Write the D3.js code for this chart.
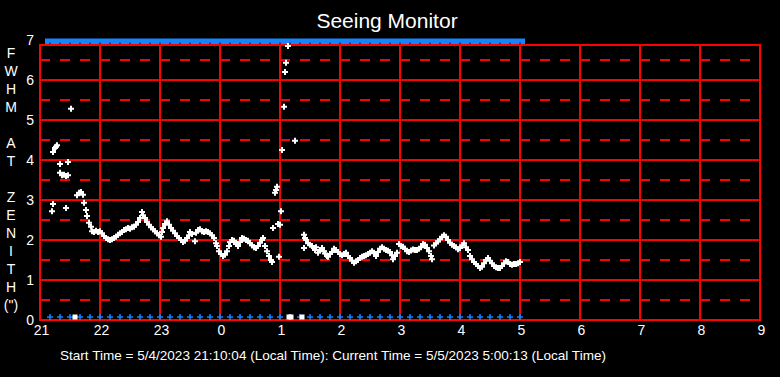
<!DOCTYPE html>
<html>
<head>
<meta charset="utf-8">
<script src="https://cdn.jsdelivr.net/npm/d3@7"></script>
<style>
  html, body { margin: 0; padding: 0; background: #000; }
  svg { display: block; }
  text { font-family: "Liberation Sans", Arial, sans-serif; fill: #fff; }
</style>
</head>
<body>
<div id="chart"></div>
<script>
// minutes after 21:00 and FWHM values (arcsec)
const fwhmMinutes = [12, 13, 13, 15, 16, 17, 20, 20, 22, 24, 26, 26, 28, 28, 31, 37, 39, 41, 43, 44, 46, 47, 49, 51,
  52, 54, 56, 58, 60, 62, 64, 66, 68, 70, 72, 74, 76, 78, 80, 82, 84, 86, 88, 90, 92, 94, 96, 98, 100, 102,
  103, 105, 107, 109, 111, 113, 115, 117, 119, 121, 122, 123, 125, 127, 129, 131, 133, 135, 137, 139, 141,
  143, 145, 147, 149, 150, 152, 155, 156, 158, 160, 162, 164, 166, 168, 170, 172, 174, 176, 177, 179, 181,
  183, 185, 187, 189, 190, 192, 194, 196, 198, 200, 202, 204, 206, 208, 210, 212, 214, 216, 218, 220, 222,
  223, 225, 227, 229, 231, 232, 233, 235, 236, 237, 238, 239, 240, 241, 242, 244, 245, 246, 248, 255, 264,
  264, 265, 266, 268, 270, 272, 274, 275, 276, 278, 280, 282, 284, 285, 287, 288, 290, 292, 294, 296, 298,
  300, 302, 304, 306, 308, 310, 312, 314, 316, 318, 320, 322, 324, 326, 328, 330, 332, 334, 336, 338, 340,
  342, 344, 346, 348, 350, 352, 353, 355, 357, 359, 361, 363, 365, 367, 369, 371, 373, 375, 377, 379, 381,
  383, 385, 387, 389, 391, 392, 394, 396, 398, 400, 402, 404, 406, 408, 410, 412, 414, 416, 418, 420, 422,
  424, 426, 428, 430, 432, 434, 436, 438, 440, 442, 444, 446, 448, 450, 452, 454, 456, 458, 460, 462, 464,
  466, 468, 470, 472, 474, 476, 478, 480];
const fwhmValues = [2.72, 2.9, 4.2, 4.3, 4.33, 4.37, 3.9, 3.68, 3.62, 3.63, 3.6, 2.8, 3.62, 3.95, 5.28, 3.12, 3.18,
  3.2, 3.13, 2.93, 2.75, 2.6, 2.43, 2.33,
  2.22, 2.2, 2.23, 2.2, 2.22, 2.17, 2.1, 2.05, 2.02, 2.0, 2.02, 2.05, 2.08, 2.13, 2.17, 2.2, 2.25, 2.27, 2.3,
  2.28, 2.32, 2.33, 2.38, 2.45, 2.55, 2.7,
  2.62, 2.55, 2.45, 2.38, 2.32, 2.27, 2.22, 2.17, 2.12, 2.08, 2.2, 2.3, 2.4, 2.47, 2.38, 2.3, 2.23, 2.17, 2.1,
  2.05, 2.0,
  1.95, 1.98, 2.05, 2.12, 2.2, 2.15, 1.97, 2.18, 2.25, 2.27, 2.22, 2.2, 2.22, 2.2, 2.17, 2.12, 2.05, 1.92, 1.85,
  1.72, 1.65,
  1.6, 1.63, 1.72, 1.85, 1.95, 2.0, 1.98, 1.9, 1.85, 1.95, 2.05, 2.03, 2.0, 1.98, 1.92, 1.87, 1.82, 1.8, 1.85,
  1.93, 2.0,
  2.05, 1.85, 1.72, 1.6, 1.5, 1.45, 2.3, 3.18, 3.25, 3.33, 2.4, 1.58, 2.38, 2.72, 4.25, 5.33, 6.2, 6.43, 6.85,
  4.48, 2.13,
  1.8, 2.05, 2.0, 1.92, 1.88, 1.85, 1.8, 1.75, 1.82, 1.68, 1.75, 1.8, 1.72, 1.66, 1.6, 1.58, 1.65, 1.7, 1.78,
  1.75, 1.7,
  1.65, 1.62, 1.65, 1.68, 1.6, 1.55, 1.48, 1.43, 1.47, 1.5, 1.55, 1.58, 1.6, 1.62, 1.65, 1.68, 1.72, 1.68,
  1.6, 1.7, 1.78,
  1.82, 1.78, 1.75, 1.73, 1.7, 1.62, 1.52, 1.6, 1.68, 1.9, 1.85, 1.83, 1.78, 1.72, 1.7, 1.74, 1.76, 1.75, 1.75,
  1.78, 1.82,
  1.9, 1.88, 1.8, 1.72, 1.6, 1.52, 1.86, 1.92, 1.96, 2.02, 2.08, 2.12, 2.08, 2.0, 1.93, 1.88, 1.85, 1.82, 1.77,
  1.8, 1.87,
  1.92, 1.82, 1.75, 1.6, 1.52, 1.45, 1.4, 1.35, 1.3, 1.33, 1.42, 1.5, 1.55, 1.48, 1.42, 1.35, 1.32, 1.3, 1.3,
  1.35, 1.42,
  1.47, 1.45, 1.4, 1.38, 1.4, 1.4, 1.42, 1.45];

// blue status markers (every sample slot) drawn at 0 and on the top edge
const slotMinutes = [10, 20, 30, 40, 50, 60, 70, 80, 90, 100, 110, 120, 130, 140, 150, 160, 170, 180, 190, 200,
  210, 220, 230, 240, 250, 260, 270, 280, 290, 300, 310, 320, 330, 340, 350, 360, 370, 380, 390, 400, 410,
  420, 430, 440, 450, 460, 470, 480];
// failed readings plotted at zero
const zeroMinutes = [35, 249, 251, 262];

const xTickMinutes = [0, 60, 120, 180, 240, 300, 360, 420, 480, 540, 600, 660, 720];
const xTickLabels = ["21", "22", "23", "0", "1", "2", "3", "4", "5", "6", "7", "8", "9"];
const yTicks = [0, 1, 2, 3, 4, 5, 6, 7];
const yHalfTicks = [0.5, 1.5, 2.5, 3.5, 4.5, 5.5, 6.5];
const yLabelChars = ["F", "W", "H", "M", "", "A", "T", "", "Z", "E", "N", "I", "T", "H", "(\")"];

const width = 780;
const height = 377;
const frameTop = 45;

const x = d3.scaleLinear().domain([0, 720]).range([40, 760]);
const y = d3.scaleLinear().domain([0, 7]).range([320, 40]);

const svg = d3.select("#chart").append("svg")
  .attr("width", width)
  .attr("height", height)
  .style("background", "#000");

// title
svg.append("text")
  .attr("x", 387).attr("y", 28)
  .attr("text-anchor", "middle")
  .style("font-size", "21px")
  .text("Seeing Monitor");

// vertical axis label, one letter per row
svg.selectAll(".ylab")
  .data(yLabelChars)
  .enter().append("text")
  .attr("class", "ylab")
  .attr("x", 11)
  .attr("y", (d, i) => 58 + i * 18)
  .attr("text-anchor", "middle")
  .style("font-size", "14px")
  .text((d) => d);

// dashed half-unit grid lines
svg.selectAll(".half")
  .data(yHalfTicks)
  .enter().append("line")
  .attr("x1", x(0)).attr("x2", x(720))
  .attr("y1", (d) => y(d)).attr("y2", (d) => y(d))
  .attr("stroke", "#ff0000")
  .attr("stroke-width", 2)
  .attr("stroke-dasharray", "10,10");

// solid integer grid lines
svg.selectAll(".full")
  .data(yTicks.filter((d) => d > 0 && d < 7))
  .enter().append("line")
  .attr("x1", x(0)).attr("x2", x(720))
  .attr("y1", (d) => y(d)).attr("y2", (d) => y(d))
  .attr("stroke", "#ff0000")
  .attr("stroke-width", 2);

// hour lines
svg.selectAll(".hour")
  .data(xTickMinutes)
  .enter().append("line")
  .attr("x1", (d) => x(d)).attr("x2", (d) => x(d))
  .attr("y1", frameTop).attr("y2", y(0))
  .attr("stroke", "#ff0000")
  .attr("stroke-width", 2);

// frame top and bottom
svg.append("line")
  .attr("x1", x(0) - 1).attr("x2", x(720) + 1)
  .attr("y1", frameTop).attr("y2", frameTop)
  .attr("stroke", "#ff0000").attr("stroke-width", 2);
svg.append("line")
  .attr("x1", x(0) - 1).attr("x2", x(720) + 1)
  .attr("y1", y(0)).attr("y2", y(0))
  .attr("stroke", "#ff0000").attr("stroke-width", 2);

// tick labels
svg.selectAll(".xl")
  .data(xTickMinutes)
  .enter().append("text")
  .attr("x", (d) => x(d) + 1.5)
  .attr("y", 335)
  .attr("text-anchor", "middle")
  .style("font-size", "14px")
  .text((d, i) => xTickLabels[i]);

svg.selectAll(".yl")
  .data(yTicks)
  .enter().append("text")
  .attr("x", 34)
  .attr("y", (d) => y(d) + 5)
  .attr("text-anchor", "end")
  .style("font-size", "14px")
  .text((d) => d);

// top status band
const band = svg.append("g");
band.selectAll("rect")
  .data(slotMinutes)
  .enter().append("rect")
  .attr("x", (d) => x(d) - 5)
  .attr("y", y(7) - 1.5)
  .attr("width", 10)
  .attr("height", frameTop - y(7) + 0.5)
  .attr("fill", "#1484ff");
band.append("rect")
  .attr("x", x(slotMinutes[0]) - 3).attr("y", y(7) + 1)
  .attr("width", 3).attr("height", 1.5)
  .attr("fill", "#1484ff");
band.selectAll("line")
  .data(slotMinutes)
  .enter().append("line")
  .attr("x1", (d) => x(d)).attr("x2", (d) => x(d))
  .attr("y1", y(7) + 2.5).attr("y2", frameTop - 1)
  .attr("stroke", "#000").attr("stroke-width", 1);

// plus-marker path
const plus = (s) => `M${-s},0H${s}M0,${-s}V${s}`;

// blue markers at zero
svg.selectAll(".zb")
  .data(slotMinutes)
  .enter().append("path")
  .attr("transform", (d) => `translate(${x(d)},${y(0) - 3})`)
  .attr("d", plus(3))
  .attr("stroke", "#1484ff")
  .attr("stroke-width", 1.5)
  .attr("fill", "none");

svg.selectAll(".zw")
  .data(zeroMinutes)
  .enter().append("rect")
  .attr("x", (d) => x(d) - 2.5)
  .attr("y", y(0) - 5.5)
  .attr("width", 5).attr("height", 5)
  .attr("fill", "#fff");

// FWHM samples
svg.selectAll(".pt")
  .data(fwhmMinutes)
  .enter().append("path")
  .attr("transform", (d, i) => `translate(${x(d)},${y(fwhmValues[i])})`)
  .attr("d", plus(3))
  .attr("stroke", "#fff")
  .attr("stroke-width", 2)
  .attr("fill", "none");

// footer
svg.append("text")
  .attr("x", 333).attr("y", 359.5)
  .attr("text-anchor", "middle")
  .attr("textLength", 546)
  .attr("lengthAdjust", "spacingAndGlyphs")
  .style("font-family", "\"Liberation Sans Narrow\", \"Liberation Sans\", Arial, sans-serif")
  .style("font-size", "13px")
  .text("Start Time = 5/4/2023 21:10:04 (Local Time): Current Time = 5/5/2023 5:00:13 (Local Time)");
</script>
</body>
</html>
